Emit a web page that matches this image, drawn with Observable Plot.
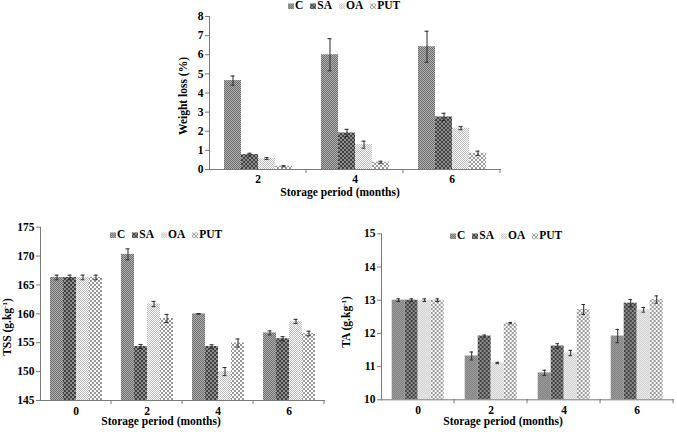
<!DOCTYPE html>
<html><head><meta charset="utf-8">
<script src="https://cdn.jsdelivr.net/npm/d3@7"></script>
<script src="https://cdn.jsdelivr.net/npm/@observablehq/plot@0.6"></script>
<style>
body{margin:0;background:#fff;}
#wrap{position:relative;width:677px;height:432px;overflow:hidden;font-family:"Liberation Serif","Times New Roman",serif;font-weight:bold;color:#000;}
.chart{position:absolute;}
.t{position:absolute;white-space:nowrap;font-size:11.5px;line-height:1;}
.yt{transform:translate(-50%,-50%) rotate(-90deg);}
.xt{transform:translate(-50%,-50%);}
.t sup{font-size:7px;vertical-align:4px;line-height:0;}
.legend{position:absolute;font-size:11.5px;white-space:nowrap;transform:translateY(-50%);line-height:1;}
.legend .item{margin-right:7px;}
.legend svg{margin-right:1px;vertical-align:0px;}
</style></head>
<body>
<svg width="0" height="0" style="position:absolute">
<defs>
<pattern id="pC" width="2" height="2" patternUnits="userSpaceOnUse"><rect width="2" height="2" fill="#b0b0b0"/><rect width="1" height="1" fill="#6e6e6e"/><rect x="1" y="1" width="1" height="1" fill="#6e6e6e"/></pattern>
<pattern id="pSA" width="4" height="4" patternUnits="userSpaceOnUse"><rect width="4" height="4" fill="#8e8e8e"/><path d="M0,0h1v1h-1z M1,1h1v1h-1z M2,2h1v1h-1z M3,3h1v1h-1z M3,0h1v1h-1z M2,1h1v1h-1z M1,2h1v1h-1z M0,3h1v1h-1z" fill="#404040"/></pattern>
<pattern id="pOA" width="2" height="2" patternUnits="userSpaceOnUse"><rect width="2" height="2" fill="#ffffff"/><rect width="1" height="1" fill="#bdbdbd"/><rect x="1" y="1" width="1" height="1" fill="#bdbdbd"/></pattern>
<pattern id="pPUT" width="4" height="4" patternUnits="userSpaceOnUse"><rect width="4" height="4" fill="#ffffff"/><path d="M0,0h1v1h-1z M1,1h1v1h-1z M2,2h1v1h-1z M3,3h1v1h-1z M3,0h1v1h-1z M2,1h1v1h-1z M1,2h1v1h-1z M0,3h1v1h-1z" fill="#999999"/></pattern>
</defs></svg>
<div id="wrap"></div>
<script>
// ---- data ----
const treatments = ["C", "SA", "OA", "PUT"];
const patternFills = ["url(#pC)", "url(#pSA)", "url(#pOA)", "url(#pPUT)"];

// Weight loss (%)
const wlPeriods = ["2", "4", "6"];
const wlC   = [4.65, 6.0, 6.42];
const wlSA  = [0.78, 1.91, 2.75];
const wlOA  = [0.57, 1.30, 2.16];
const wlPUT = [0.17, 0.38, 0.85];
const wlErrC   = [0.24, 0.84, 0.81];
const wlErrSA  = [0.07, 0.19, 0.19];
const wlErrOA  = [0.05, 0.18, 0.08];
const wlErrPUT = [0.03, 0.05, 0.11];
const wlTicks = [0, 1, 2, 3, 4, 5, 6, 7, 8];

// TSS (g.kg-1)
const qPeriods = ["0", "2", "4", "6"];
const tssC   = [166.3, 170.3, 160.0, 156.7];
const tssSA  = [166.3, 154.35, 154.35, 155.7];
const tssOA  = [166.3, 161.7, 150.0, 158.7];
const tssPUT = [166.3, 159.2, 154.95, 156.6];
const tssErrC   = [0.4, 0.95, 0.05, 0.35];
const tssErrSA  = [0.4, 0.35, 0.3, 0.35];
const tssErrOA  = [0.4, 0.45, 0.7, 0.35];
const tssErrPUT = [0.4, 0.7, 0.7, 0.4];
const tssTicks = [145, 150, 155, 160, 165, 170, 175];

// TA (g.kg-1)
const taC   = [13.0, 11.32, 10.81, 11.92];
const taSA  = [13.0, 11.92, 11.62, 12.91];
const taOA  = [13.0, 11.11, 11.41, 12.71];
const taPUT = [13.0, 12.31, 12.72, 13.02];
const taErrC   = [0.04, 0.12, 0.08, 0.2];
const taErrSA  = [0.04, 0.03, 0.07, 0.11];
const taErrOA  = [0.04, 0.02, 0.08, 0.07];
const taErrPUT = [0.04, 0.02, 0.15, 0.11];
const taTicks = [10, 11, 12, 13, 14, 15];

// ---- drawing ----
const axisColor = "#7a7a7a";
const barStroke = "#2a2a2a";
const font = '"Liberation Serif","Times New Roman",serif';

function panel({periods, series, errors, ticks, width, height, margins, capInset, fxPad}) {
  const rows = [];
  periods.forEach((p, i) => treatments.forEach((t, j) =>
    rows.push({period: p, treatment: t, value: series[j][i], err: errors[j][i]})));
  const ymin = ticks[0], ymax = ticks[ticks.length - 1];
  const boundaryTicks = (index, scales, values, dims) => {
    const x1 = scales.x.range()[1];
    const yb = dims.height - dims.marginBottom;
    const g = d3.create("svg:g");
    g.append("line").attr("x1", x1).attr("x2", x1).attr("y1", yb).attr("y2", yb + 4)
      .attr("stroke", axisColor);
    return g.node();
  };
  return Plot.plot({
    width, height, ...margins,
    style: {fontFamily: font, fontWeight: "bold", fontSize: "11.5px", background: "transparent", color: "#000"},
    fx: {domain: periods, padding: 0, label: null},
    x: {domain: treatments, axis: null, paddingInner: 0, paddingOuter: 0.72},
    y: {domain: [ymin, ymax]},
    color: {domain: treatments, range: patternFills},
    marks: [
      Plot.barY(rows, {fx: "period", x: "treatment", y1: ymin, y2: "value", fill: "treatment"}),
      Plot.ruleX(rows, {fx: "period", x: "treatment", y1: d => d.value - d.err, y2: d => d.value + d.err, stroke: barStroke}),
      Plot.tickY(rows, {fx: "period", x: "treatment", y: d => d.value + d.err, insetLeft: capInset, insetRight: capInset, stroke: barStroke}),
      Plot.tickY(rows, {fx: "period", x: "treatment", y: d => d.value - d.err, insetLeft: capInset, insetRight: capInset, stroke: barStroke}),
      Plot.frame({anchor: "left", facetAnchor: "left", stroke: axisColor}),
      Plot.frame({anchor: "bottom", stroke: axisColor}),
      boundaryTicks,
      Plot.axisY(ticks, {tickSize: 4, tickPadding: 2, stroke: axisColor, fill: "#000", label: null}),
      Plot.axisFx({anchor: "bottom", tickSize: 0, tickPadding: fxPad, label: null})
    ]
  });
}

const wrap = document.getElementById("wrap");
function place(node, left, top) {
  node.classList.add("chart");
  node.style.left = left + "px";
  node.style.top = top + "px";
  wrap.appendChild(node);
}
function text(html, x, y, cls) {
  const d = document.createElement("div");
  d.className = "t " + cls;
  d.style.left = x + "px";
  d.style.top = y + "px";
  d.innerHTML = html;
  wrap.appendChild(d);
}
function legend(x, y) {
  const d = document.createElement("div");
  d.className = "legend";
  d.style.left = x + "px";
  d.style.top = y + "px";
  d.innerHTML = treatments.map((t, i) =>
    `<span class="item"><svg width="6" height="6"><rect width="6" height="6" fill="${patternFills[i]}"/></svg>${t}</span>`).join("");
  wrap.appendChild(d);
}

// top: weight loss
place(panel({
  periods: wlPeriods,
  series: [wlC, wlSA, wlOA, wlPUT],
  errors: [wlErrC, wlErrSA, wlErrOA, wlErrPUT],
  ticks: wlTicks, width: 360, height: 205,
  margins: {marginLeft: 59, marginRight: 10, marginTop: 16, marginBottom: 36},
  capInset: 6.5, fxPad: 5
}), 150, 0);
legend(288, 6);
text("Weight loss (%)", 184, 96, "yt");
text("Storage period (months)", 340, 193, "xt");

// bottom-left: TSS
place(panel({
  periods: qPeriods,
  series: [tssC, tssSA, tssOA, tssPUT],
  errors: [tssErrC, tssErrSA, tssErrOA, tssErrPUT],
  ticks: tssTicks, width: 340, height: 217,
  margins: {marginLeft: 39, marginRight: 16, marginTop: 11.7, marginBottom: 32},
  capInset: 4.5, fxPad: 6
}), 0, 215);
legend(110, 235);
text("TSS (g.kg<sup>-1</sup>)", 8, 327, "yt");
text("Storage period (months)", 161, 422, "xt");

// bottom-right: TA
place(panel({
  periods: qPeriods,
  series: [taC, taSA, taOA, taPUT],
  errors: [taErrC, taErrSA, taErrOA, taErrPUT],
  ticks: taTicks, width: 337, height: 217,
  margins: {marginLeft: 39.3, marginRight: 3, marginTop: 18.3, marginBottom: 32.7},
  capInset: 4.75, fxPad: 6
}), 340, 215);
legend(450, 236);
text("TA (g.kg<sup>-1</sup>)", 347, 322, "yt");
text("Storage period (months)", 503, 422, "xt");
</script>
</body></html>
